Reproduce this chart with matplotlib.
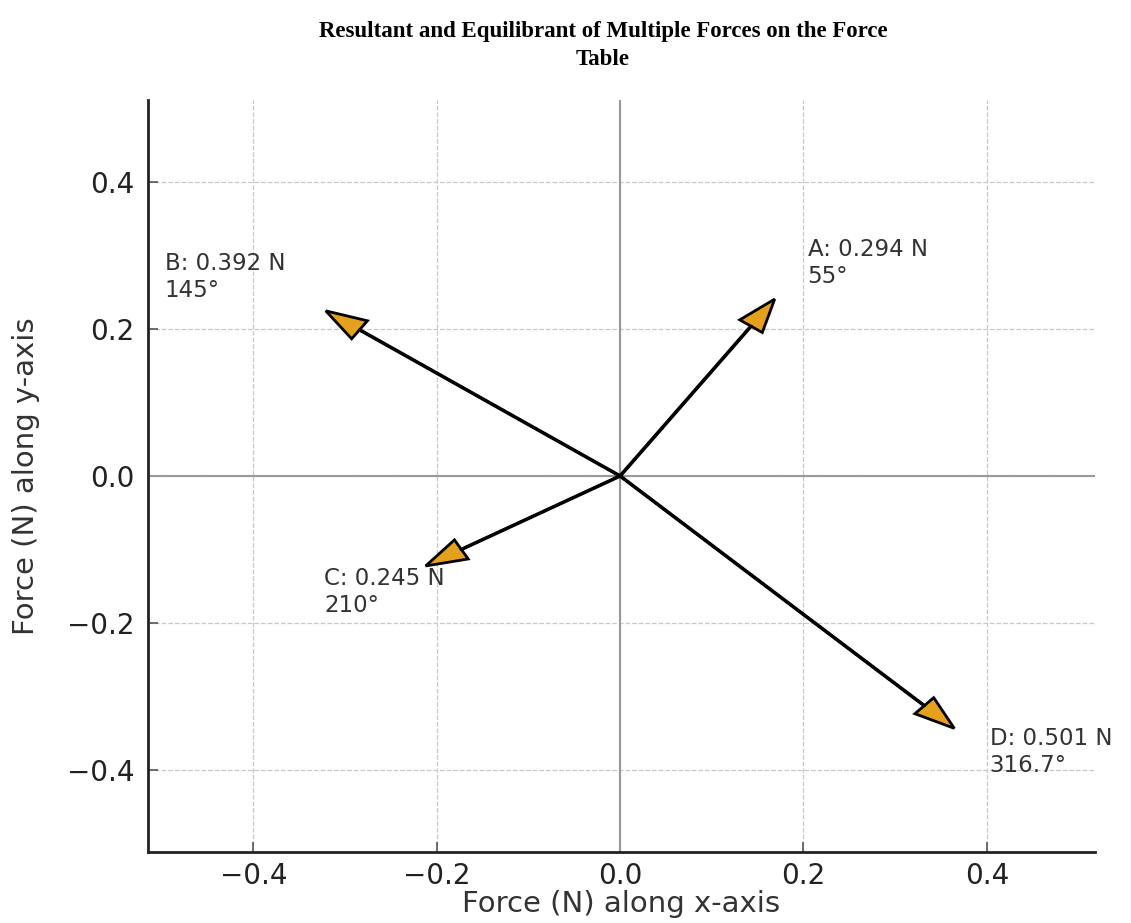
import numpy as np
import matplotlib
matplotlib.use("Agg")
import matplotlib.pyplot as plt

# force table data
labels = ["A", "B", "C", "D"]
magnitudes = [0.294, 0.392, 0.245, 0.501]   # N
angles = [55, 145, 210, 316.7]              # degrees
angle_text = ["55°", "145°", "210°", "316.7°"]

# where the labels sit (centre x, baseline of last line)
label_pos = [(0.270, 0.263), (-0.431, 0.244), (-0.257, -0.185), (0.470, -0.403)]

fig = plt.figure(figsize=(11.31, 9.23), dpi=100)
ax = fig.add_axes([0.1309, 0.0769, 0.8372, 0.8148])

ax.axhline(0, color="#999999", lw=1.5, zorder=1)
ax.axvline(0, color="#999999", lw=1.5, zorder=1)

for lab, mag, ang, atxt, pos in zip(labels, magnitudes, angles, angle_text, label_pos):
    x = mag * np.cos(np.radians(ang))
    y = mag * np.sin(np.radians(ang))
    ax.arrow(0, 0, x, y, width=0.001, head_width=0.03, head_length=0.045,
             length_includes_head=True, fc="#E5A11C", ec="black", lw=2, zorder=3)
    ax.text(pos[0], pos[1], f"{lab}: {mag:.3f} N\n{atxt}", ha="center", ma="left",
            va="baseline", fontsize=16.5, color="#333333")

ax.set_xlim(-0.515, 0.518)
ax.set_ylim(-0.512, 0.512)
ax.set_xticks([-0.4, -0.2, 0.0, 0.2, 0.4])
ax.set_yticks([-0.4, -0.2, 0.0, 0.2, 0.4])
ax.grid(True, ls="--", color="#c8c8c8", lw=0.9)
ax.set_axisbelow(True)

for s in ["top", "right"]:
    ax.spines[s].set_visible(False)
for s in ["left", "bottom"]:
    ax.spines[s].set_linewidth(2)
    ax.spines[s].set_color("#222222")
ax.tick_params(direction="in", length=7, width=1.2, color="#555555",
               labelsize=20, labelcolor="#222222")
ax.tick_params(axis="x", pad=7)
ax.tick_params(axis="y", pad=10)

ax.set_xlabel("Force (N) along x-axis", fontsize=21, color="#333333", labelpad=0)
ax.set_ylabel("Force (N) along y-axis", fontsize=21, color="#333333", labelpad=19)

fig.text(0.533, 0.951, "Resultant and Equilibrant of Multiple Forces on the Force\nTable",
         ha="center", va="center", fontsize=16.5, fontweight="bold",
         family="Liberation Serif", linespacing=1.45)

fig.savefig("out.png", dpi=100)
